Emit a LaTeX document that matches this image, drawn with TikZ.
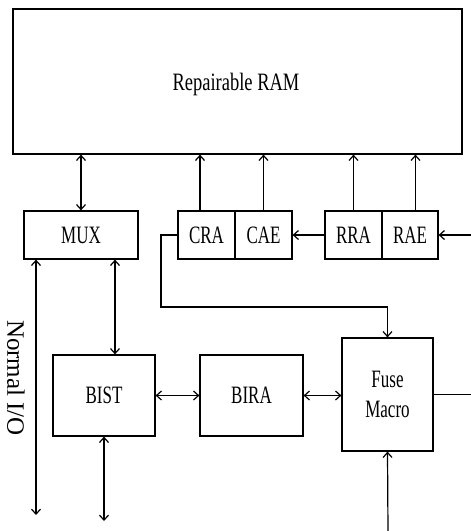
\documentclass[tikz,border=0pt]{standalone}
\usepackage{fontspec}
\setmainfont{Liberation Serif}
\newfontfamily\narrowfont{Liberation Serif}[FakeStretch=0.68]
\newfontfamily\ramfont{Liberation Serif}[FakeStretch=0.74]
\usetikzlibrary{arrows.meta}

\begin{document}
\begin{tikzpicture}[x=1pt, y=-1pt, line width=1.2pt,
    >={Straight Barb[length=5pt,width=9pt]},
    block/.style={draw, rectangle, inner sep=0pt, font=\narrowfont\fontsize{25}{30}\selectfont, align=center}]
  \useasboundingbox (0,0) rectangle (471,531);

  % Memory array
  \node[block, minimum width=449pt, minimum height=145pt] (ram) at (237.5,81.5) {};
  \node[font=\ramfont\fontsize{25}{30}\selectfont] (ramtxt) at (236,84) {Repairable RAM};

  % Row of registers under the RAM
  \node[block, minimum width=114pt, minimum height=48pt] (mux) at (81,235) {MUX};
  \node[block, minimum width=57pt, minimum height=48pt] (cra) at (206.5,235) {CRA};
  \node[block, minimum width=57pt, minimum height=48pt] (cae) at (263.5,235) {CAE};
  \node[block, minimum width=57pt, minimum height=48pt] (rra) at (353.5,235) {RRA};
  \node[block, minimum width=56pt, minimum height=48pt] (rae) at (410,235) {RAE};

  % Test and repair blocks
  \node[block, minimum width=102pt, minimum height=81pt] (bist) at (104,395.5) {BIST};
  \node[block, minimum width=103pt, minimum height=81pt] (bira) at (251.5,395.5) {BIRA};
  \node[block, minimum width=91pt, minimum height=113pt] (fuse) at (387.5,394.5) {Fuse\\Macro};

  % Free ends
  \coordinate (ioend) at (36,515);
  \coordinate (bistend) at (104,521);
  \coordinate (fusein) at (388,531);
  \coordinate (fuseout) at (471,394.5);
  \coordinate (raein) at (471,235);
  \coordinate (bend) at (161,307);

  % RAM connections
  \draw[<->] (mux.north) -- (mux.north |- ram.south);
  \draw[->] ([xshift=-6.5pt]cra.north) -- ([xshift=-6.5pt]cra.north |- ram.south);
  \draw[->] (cae.north) -- (cae.north |- ram.south);
  \draw[->] (rra.north) -- (rra.north |- ram.south);
  \draw[->] ([xshift=5.5pt]rae.north) -- ([xshift=5.5pt]rae.north |- ram.south);

  % Register chain
  \draw[->] (raein) -- (rae.east);
  \draw[->] (rra.west) -- (cae.east);
  \draw[->] (cra.west) -| (bend) -| (fuse.north);

  % Normal I/O and test path
  \draw[<->] ([xshift=-45pt]mux.south) -- (ioend);
  \node[rotate=-90, font=\fontsize{25}{30}\selectfont] (iolabel) at (16,378) {Normal I/O};
  \draw[<->] ([xshift=34pt]mux.south) -- ([xshift=34pt]mux.south |- bist.north);
  \draw[<->] (bist.south) -- (bistend);
  \draw[<->] (bist.east) -- (bira.west);
  \draw[<->] (bira.east) -- (fuse.west |- bira.east);
  \draw[->] (fusein) -- (fuse.south);
  \draw (fuse.east) -- (fuseout);
\end{tikzpicture}
\end{document}
